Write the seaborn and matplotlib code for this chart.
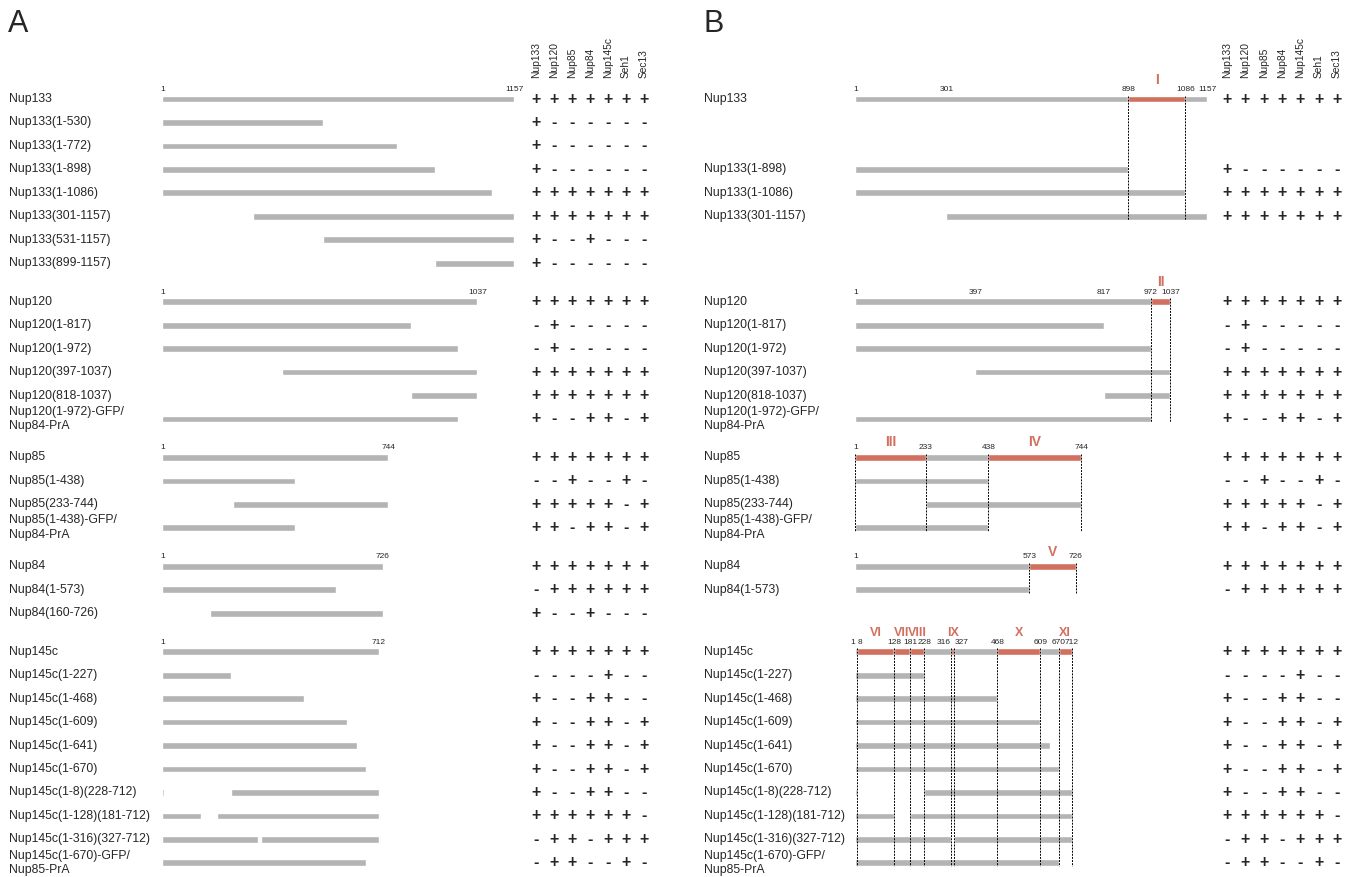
import numpy as np
import seaborn as sns
import matplotlib.pyplot as plt
import matplotlib.transforms as mtransforms

sns.set_style("white")
plt.rcParams["font.family"] = ["Liberation Sans", "DejaVu Sans"]

# binding partners (columns of the +/- table)
partners = ["Nup133", "Nup120", "Nup85", "Nup84", "Nup145c", "Seh1", "Sec13"]

# full length proteins
full_length = [1157, 1037, 744, 726, 712]

constructs = [
    "Nup133", "Nup133(1-530)", "Nup133(1-772)", "Nup133(1-898)", "Nup133(1-1086)",
    "Nup133(301-1157)", "Nup133(531-1157)", "Nup133(899-1157)",
    "Nup120", "Nup120(1-817)", "Nup120(1-972)", "Nup120(397-1037)", "Nup120(818-1037)",
    "Nup120(1-972)-GFP/\nNup84-PrA",
    "Nup85", "Nup85(1-438)", "Nup85(233-744)", "Nup85(1-438)-GFP/\nNup84-PrA",
    "Nup84", "Nup84(1-573)", "Nup84(160-726)",
    "Nup145c", "Nup145c(1-227)", "Nup145c(1-468)", "Nup145c(1-609)", "Nup145c(1-641)",
    "Nup145c(1-670)", "Nup145c(1-8)(228-712)", "Nup145c(1-128)(181-712)",
    "Nup145c(1-316)(327-712)", "Nup145c(1-670)-GFP/\nNup85-PrA",
]
group = [0] * 8 + [1] * 6 + [2] * 4 + [3] * 3 + [4] * 10
segments = [
    [(1, 1157)], [(1, 530)], [(1, 772)], [(1, 898)], [(1, 1086)],
    [(301, 1157)], [(531, 1157)], [(899, 1157)],
    [(1, 1037)], [(1, 817)], [(1, 972)], [(397, 1037)], [(818, 1037)], [(1, 972)],
    [(1, 744)], [(1, 438)], [(233, 744)], [(1, 438)],
    [(1, 726)], [(1, 573)], [(160, 726)],
    [(1, 712)], [(1, 227)], [(1, 468)], [(1, 609)], [(1, 641)], [(1, 670)],
    [(1, 8), (228, 712)], [(1, 128), (181, 712)], [(1, 316), (327, 712)], [(1, 670)],
]
binding = [
    "+++++++", "+------", "+------", "+------", "+++++++", "+++++++", "+--+---", "+------",
    "+++++++", "-+-----", "-+-----", "+++++++", "+++++++", "+--++-+",
    "+++++++", "--+--+-", "+++++-+", "++-++-+",
    "+++++++", "-++++++", "+--+---",
    "+++++++", "----+--", "+--++--", "+--++-+", "+--++-+", "+--++-+",
    "+--++--", "++++++-", "-++-+++", "-++--+-",
]
in_panel_b = [1, 0, 0, 1, 1, 1, 0, 0,
              1, 1, 1, 1, 1, 1,
              1, 1, 1, 1,
              1, 1, 0,
              1, 1, 1, 1, 1, 1, 1, 1, 1, 1]

# residue numbers printed above the full length bars in panel B
landmarks = [
    [1, 301, 898, 1086, 1157],
    [1, 397, 817, 972, 1037],
    [1, 233, 438, 744],
    [1, 573, 726],
    [1, 8, 128, 181, 228, 316, 327, 468, 609, 670, 712],
]

# domains (panel B)
domain_name = ["I", "II", "III", "IV", "V", "VI", "VII", "VIII", "IX", "X", "XI"]
domain_group = [0, 1, 2, 2, 3, 4, 4, 4, 4, 4, 4]
domain_start = [898, 972, 1, 438, 573, 8, 128, 181, 316, 468, 670]
domain_end = [1086, 1037, 233, 744, 726, 128, 181, 228, 327, 609, 712]

gray = "#b4b4b4"
red = "#d2705f"

W, H = 1351, 877
fig = plt.figure(figsize=(W / 100, H / 100), dpi=100)

row_px = 23.46
first_px = 99
gap = 1.64
ypos = []
y = 0.0
for i, g in enumerate(group):
    if i > 0:
        y += 1 if g == group[i - 1] else gap
    ypos.append(y)
ypos = np.array(ypos)
ylim = ((H - first_px) / row_px, -first_px / row_px)
first_row = [group.index(g) for g in range(len(full_length))]
bar_h = 0.29
res_px = 352 / 1157
roman_lift = [0.82, 0.86, 0.68, 0.62, 0.8]
roman_size = [10, 10, 10, 10, 9]


def new_axes(left_px, width_px, xlim):
    ax = fig.add_axes([left_px / W, 0, width_px / W, 1])
    ax.set_xlim(*xlim)
    ax.set_ylim(*ylim)
    ax.axis("off")
    return ax


for panel, (letter, label_px, bar_px, col0, colstep) in enumerate(
        [("A", 9, 162, 536, 18.0), ("B", 704, 855, 1227, 18.33)]):
    ax = new_axes(bar_px, 1200 * res_px, (0, 1200))
    axt = new_axes(col0 - colstep / 2, 7 * colstep, (-0.5, 6.5))
    fig.text((label_px - 1) / W, 1 - 9 / H, letter, fontsize=22, va="top", ha="left")
    lab_tr = mtransforms.blended_transform_factory(fig.transFigure, ax.transData)

    rows = [i for i in range(len(constructs)) if panel == 0 or in_panel_b[i]]
    for i in rows:
        ax.text(label_px / W, ypos[i], constructs[i], transform=lab_tr,
                ha="left", va="center", fontsize=8.8, linespacing=1.3)
        for s, e in segments[i]:
            ax.barh(ypos[i], e - s + 1, left=s - 1, height=bar_h, color=gray, zorder=2)
        for j, sign in enumerate(binding[i]):
            axt.text(j, ypos[i], sign, ha="center", va="center",
                     fontsize=11.5, fontweight="bold")

    for j, p in enumerate(partners):
        axt.text(j, -0.9, p, rotation=90, ha="center", va="bottom", fontsize=7.4)

    for g, r in enumerate(first_row):
        if panel == 0:
            marks = [1, full_length[g]]
        else:
            marks = landmarks[g]
        for k, m in enumerate(marks):
            ha = "center"
            if k + 1 < len(marks) and marks[k + 1] - m < 15:
                ha = "right"
            elif k > 0 and m - marks[k - 1] < 15:
                ha = "left"
            ax.text(m, ypos[r] - 0.34, str(m), ha=ha, va="baseline", fontsize=6)

    if panel == 1:
        for n, g, s, e in zip(domain_name, domain_group, domain_start, domain_end):
            r = first_row[g]
            ax.barh(ypos[r], e - s, left=s, height=bar_h, color=red, zorder=2.5)
            ax.text((s + e) / 2, ypos[r] - roman_lift[g], n, ha="center", va="center",
                    color=red, fontsize=roman_size[g], fontweight="bold")
        for g in range(len(full_length)):
            ys = [ypos[i] for i in rows if group[i] == g]
            bounds = sorted(set([s for s, dg in zip(domain_start, domain_group) if dg == g] +
                                [e for e, dg in zip(domain_end, domain_group) if dg == g]))
            ax.vlines(bounds, min(ys) - bar_h / 2, max(ys) + bar_h / 2, colors="black",
                      linestyles=(0, (2, 1.2)), linewidth=0.7, zorder=3)

fig.savefig("out.png", dpi=100)
